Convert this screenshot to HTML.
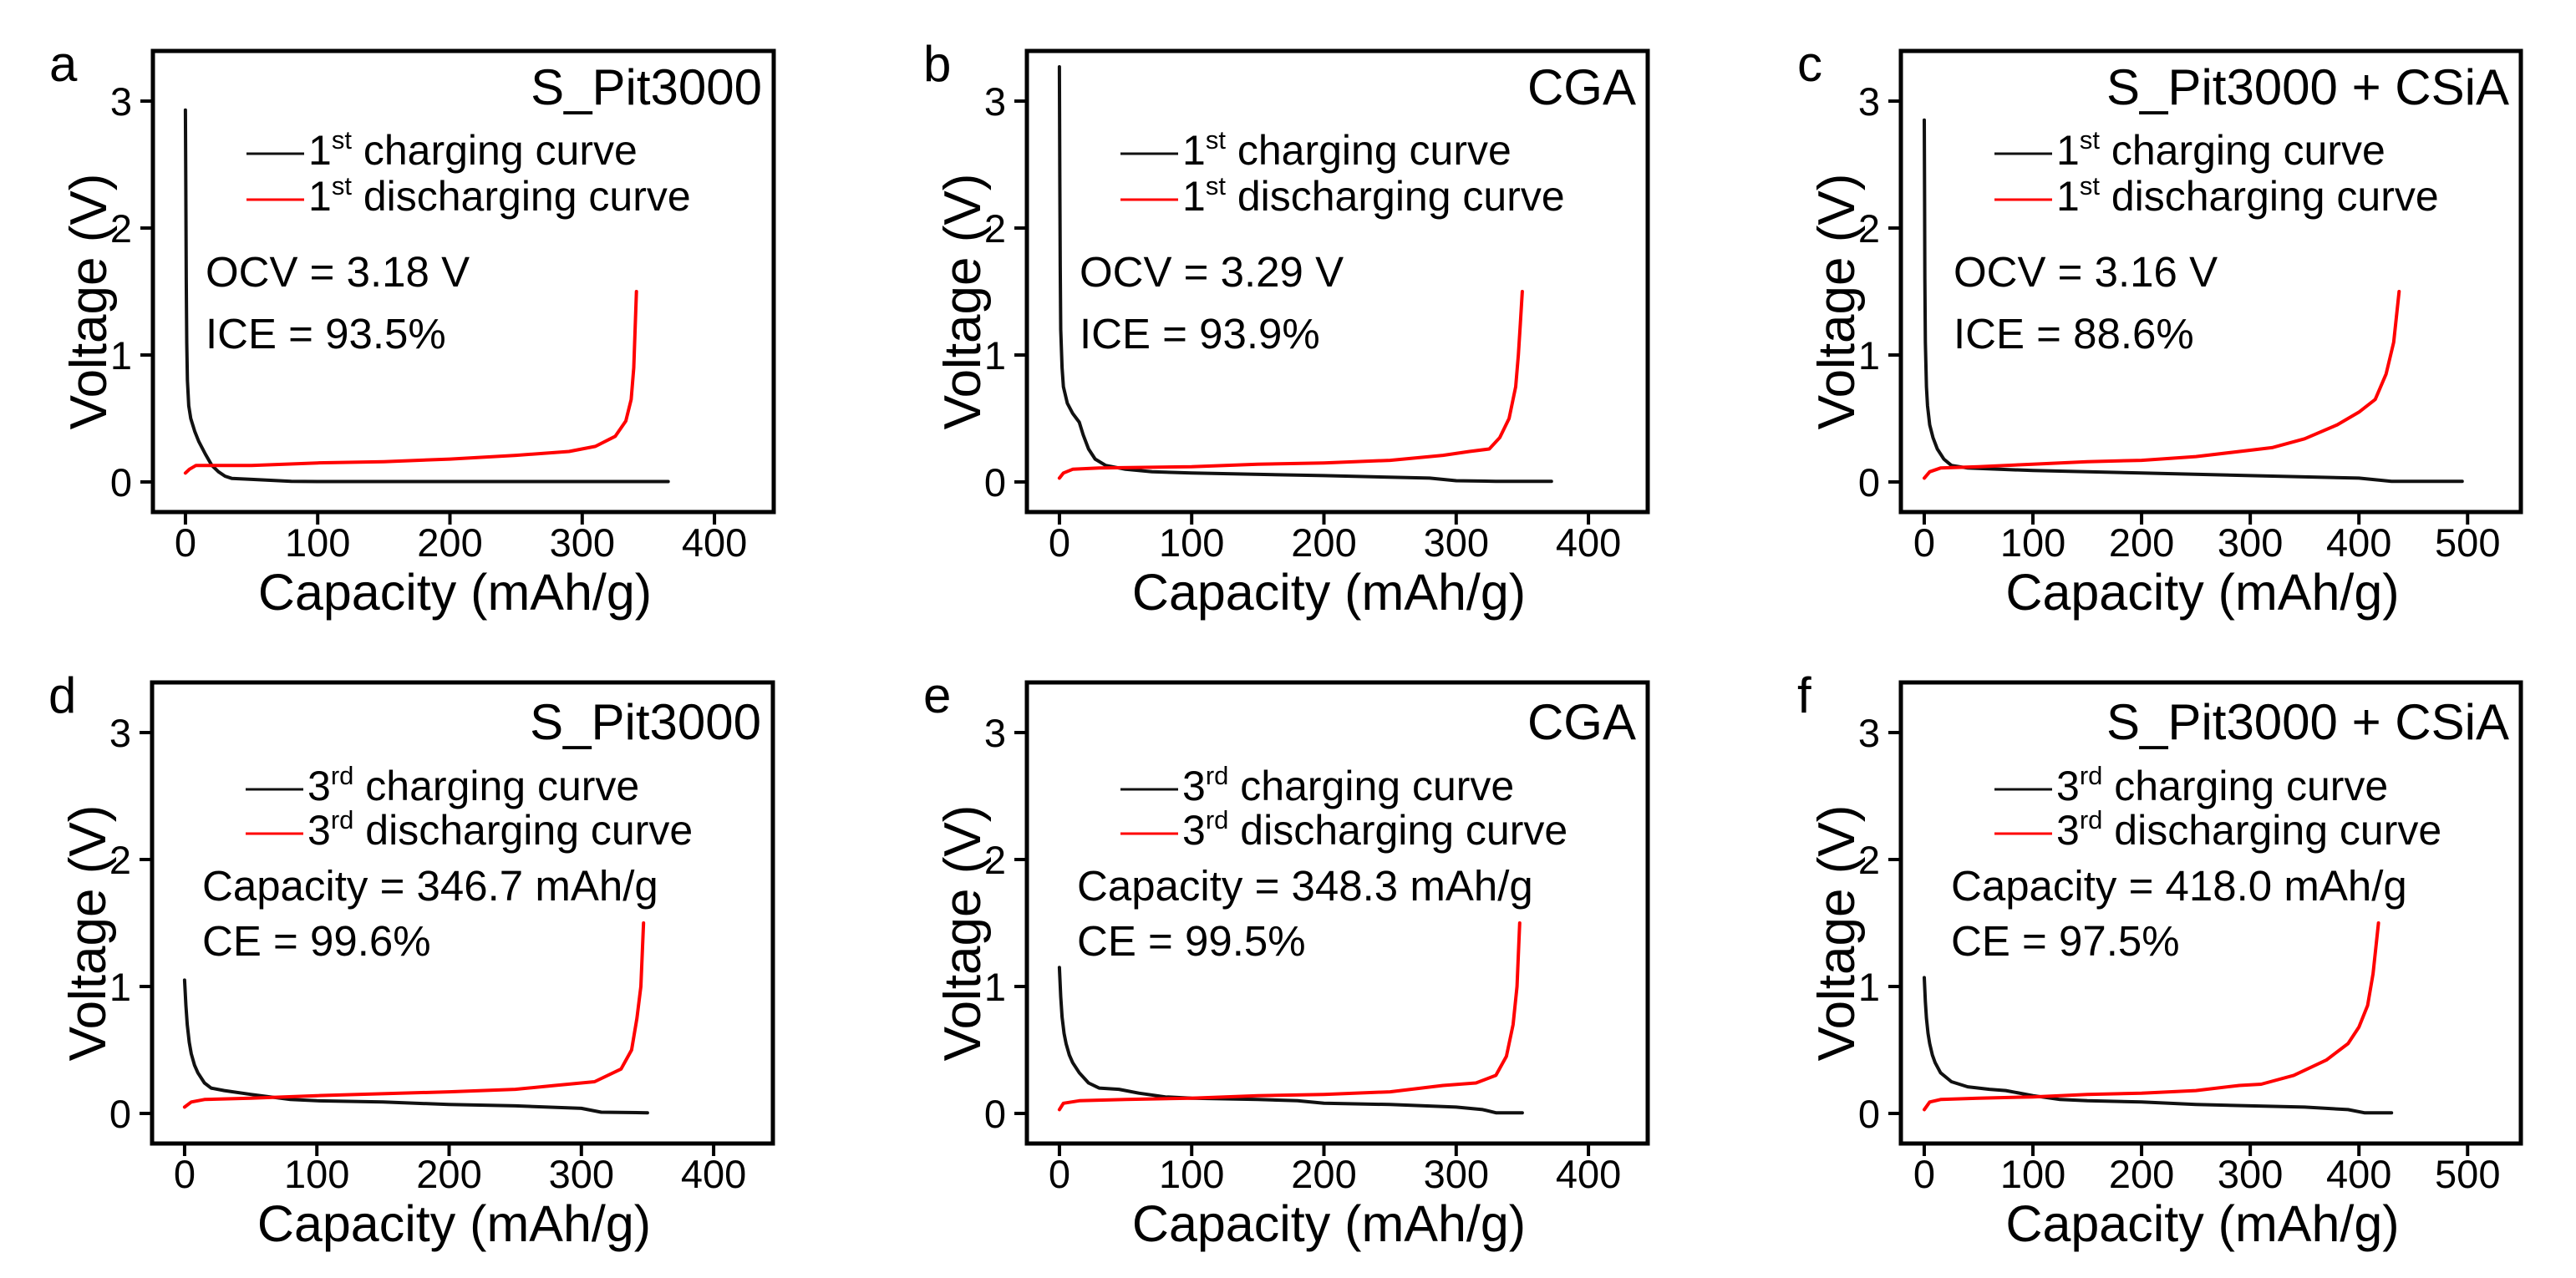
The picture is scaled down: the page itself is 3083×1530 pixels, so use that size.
<!DOCTYPE html>
<html><head><meta charset="utf-8"><style>
html,body{margin:0;padding:0;background:#fff}
svg{display:block;font-family:"Liberation Sans",Arial,sans-serif}
</style></head><body>
<svg id="fig" xmlns="http://www.w3.org/2000/svg" width="3083" height="1530" viewBox="0 0 3083 1530"></svg>
<script>
// ---- data (capacity mAh/g, voltage V) ----
const aChargeX=[0,0.3,0.6,1,1.5,2.5,4,7,10,15,20,25,30,35,50,80,100,365];
const aChargeV=[2.93,2.3,1.6,1.1,0.8,0.6,0.5,0.4,0.32,0.22,0.13,0.08,0.045,0.028,0.02,0.005,0.003,0.003];
const aDischX=[0,3,8,20,50,100,150,200,250,290,310,325,333,337,339,340,341];
const aDischV=[0.07,0.1,0.13,0.13,0.13,0.15,0.16,0.18,0.21,0.24,0.28,0.36,0.48,0.65,0.9,1.2,1.5];
const bChargeX=[0,0.3,0.6,1,2,3,6,10,15,18,22,27,35,50,70,100,200,280,300,330,372];
const bChargeV=[3.27,2.4,1.7,1.2,0.9,0.75,0.62,0.54,0.47,0.37,0.26,0.18,0.13,0.1,0.08,0.07,0.05,0.03,0.01,0.005,0.005];
const bDischX=[0,3,10,30,100,150,200,250,290,310,325,333,340,345,347,348.5,350];
const bDischV=[0.03,0.07,0.1,0.11,0.12,0.14,0.15,0.17,0.21,0.24,0.26,0.35,0.5,0.75,1.0,1.25,1.5];
const cChargeX=[0,0.3,0.6,1,2,3,5,8,12,18,25,40,100,200,300,400,430,495];
const cChargeV=[2.85,2.2,1.6,1.1,0.75,0.6,0.45,0.35,0.26,0.18,0.13,0.11,0.09,0.07,0.05,0.03,0.005,0.005];
const cDischX=[0,5,15,50,100,150,200,250,300,320,350,380,400,415,425,432,437];
const cDischV=[0.03,0.08,0.11,0.12,0.14,0.16,0.17,0.2,0.25,0.27,0.34,0.45,0.55,0.65,0.85,1.1,1.5];
const dChargeX=[0,1,2,3.5,5,7.5,10,15,20,30,50,80,100,150,200,250,300,315,350];
const dChargeV=[1.05,0.85,0.7,0.56,0.47,0.38,0.32,0.24,0.2,0.18,0.15,0.11,0.1,0.09,0.07,0.06,0.04,0.01,0.005];
const dDischX=[0,5,15,50,100,200,250,280,310,330,338,342,345,347];
const dDischV=[0.05,0.09,0.11,0.12,0.14,0.17,0.19,0.22,0.25,0.35,0.5,0.75,1.0,1.5];
const eChargeX=[0,1,2,3.5,5,7.5,10,15,22,30,45,60,80,100,150,180,200,250,300,320,330,350];
const eChargeV=[1.15,0.92,0.76,0.63,0.55,0.46,0.4,0.32,0.24,0.2,0.19,0.16,0.13,0.12,0.11,0.1,0.08,0.07,0.05,0.03,0.005,0.005];
const eDischX=[0,3,15,50,100,150,200,250,290,315,330,338,343,346,348];
const eDischV=[0.03,0.08,0.1,0.11,0.12,0.14,0.15,0.17,0.22,0.24,0.3,0.45,0.7,1.0,1.5];
const fChargeX=[0,1,2,3.5,5,7.5,10,15,25,40,60,75,100,125,150,200,250,300,350,390,405,430];
const fChargeV=[1.07,0.88,0.75,0.63,0.55,0.46,0.4,0.32,0.25,0.21,0.19,0.18,0.14,0.11,0.1,0.09,0.07,0.06,0.05,0.03,0.005,0.005];
const fDischX=[0,5,15,50,100,150,200,250,290,310,340,370,390,400,408,413,418];
const fDischV=[0.03,0.09,0.11,0.12,0.13,0.15,0.16,0.18,0.22,0.23,0.3,0.42,0.55,0.68,0.85,1.1,1.5];
const xTicks4=[0,100,200,300,400];
const xTicks5=[0,100,200,300,400,500];
const yTicks=[0,1,2,3];

const NS="http://www.w3.org/2000/svg";
const svg=document.getElementById('fig');
function el(tag,attrs,parent){const e=document.createElementNS(NS,tag);for(const k in attrs)e.setAttribute(k,attrs[k]);(parent||svg).appendChild(e);return e;}

const panels=[
 {id:'a',L:183,T:61,W:743,xmin:-24.6,xmax:444.8,ticks:xTicks4,title:'S_Pit3000',ord:'st',n:'1',t1:'OCV = 3.18 V',t2:'ICE = 93.5%',cx:aChargeX,cv:aChargeV,dx:aDischX,dv:aDischV},
 {id:'b',L:1229,T:61,W:743,xmin:-24.6,xmax:444.8,ticks:xTicks4,title:'CGA',ord:'st',n:'1',t1:'OCV = 3.29 V',t2:'ICE = 93.9%',cx:bChargeX,cv:bChargeV,dx:bDischX,dv:bDischV},
 {id:'c',L:2275,T:61,W:742,xmin:-21.5,xmax:549,ticks:xTicks5,title:'S_Pit3000 + CSiA',ord:'st',n:'1',t1:'OCV = 3.16 V',t2:'ICE = 88.6%',cx:cChargeX,cv:cChargeV,dx:cDischX,dv:cDischV},
 {id:'d',L:182,T:817,W:743,xmin:-24.6,xmax:444.8,ticks:xTicks4,title:'S_Pit3000',ord:'rd',n:'3',t1:'Capacity = 346.7 mAh/g',t2:'CE = 99.6%',cx:dChargeX,cv:dChargeV,dx:dDischX,dv:dDischV},
 {id:'e',L:1229,T:817,W:743,xmin:-24.6,xmax:444.8,ticks:xTicks4,title:'CGA',ord:'rd',n:'3',t1:'Capacity = 348.3 mAh/g',t2:'CE = 99.5%',cx:eChargeX,cv:eChargeV,dx:eDischX,dv:eDischV},
 {id:'f',L:2275,T:817,W:742,xmin:-21.5,xmax:549,ticks:xTicks5,title:'S_Pit3000 + CSiA',ord:'rd',n:'3',t1:'Capacity = 418.0 mAh/g',t2:'CE = 97.5%',cx:fChargeX,cv:fChargeV,dx:fDischX,dv:fDischV}
];
const H=552, YMIN=-0.237, YMAX=3.395;

panels.forEach(p=>{
  const g=el('g',{});
  
  
  const sx=v=>p.L+(v-p.xmin)/(p.xmax-p.xmin)*p.W;
  const sy=v=>p.T+H-(v-YMIN)/(YMAX-YMIN)*H;
  const B=p.T+H, R=p.L+p.W;
  const top=p.T<400;
  const mk=(xs,vs,color,name)=>{
    const pts=xs.map((x,i)=>sx(x).toFixed(1)+','+sy(vs[i]).toFixed(1)).join(' ');
    const pl=el('polyline',{points:pts,fill:'none',stroke:color,'stroke-width':4,'stroke-linejoin':'round','stroke-linecap':'round'},g);
    
    
  };
  mk(p.cx,p.cv,'#111','charging-curve');
  mk(p.dx,p.dv,'#ff0000','discharging-curve');
  const fr=el('rect',{x:p.L,y:p.T,width:p.W,height:H,fill:'none',stroke:'#000','stroke-width':5},g);
  
  
  p.ticks.forEach(t=>{
    const x=sx(t);
    el('line',{x1:x,y1:B,x2:x,y2:B+15,stroke:'#000','stroke-width':4},g);
    const tx=el('text',{x:x,y:B+53,'font-size':47,'text-anchor':'middle',fill:'#000'},g);
    tx.textContent=t;
    
    
  });
  yTicks.forEach(t=>{
    const y=sy(t);
    el('line',{x1:p.L-15,y1:y,x2:p.L,y2:y,stroke:'#000','stroke-width':4},g);
    const tx=el('text',{x:p.L-25,y:y+17,'font-size':47,'text-anchor':'end',fill:'#000'},g);
    tx.textContent=t;
    
    
  });
  const xt=el('text',{x:p.L+p.W/2-10,y:B+117,'font-size':61,'text-anchor':'middle',fill:'#000'},g);
  xt.textContent='Capacity (mAh/g)';
  
  
  const yt=el('text',{x:0,y:0,'font-size':62,'text-anchor':'middle',fill:'#000',transform:'translate('+(p.L-56)+','+(p.T+300)+') rotate(-90)'},g);
  yt.textContent='Voltage (V)';
  
  
  const lt=el('text',{x:p.L-124,y:p.T+36,'font-size':60,fill:'#000'},g);
  lt.textContent=p.id;
  
  
  const tt=el('text',{x:R-14,y:p.T+(top?64:68),'font-size':60,'text-anchor':'end',fill:'#000'},g);
  tt.textContent=p.title;
  
  
  const leg=[['#111',' charging curve',top?123:128],['#ff0000',' discharging curve',top?178:181]];
  leg.forEach((l,i)=>{
    const ln=el('line',{x1:p.L+112,y1:p.T+l[2],x2:p.L+181,y2:p.T+l[2],stroke:l[0],'stroke-width':3},g);
    
    
    const tx=el('text',{x:p.L+186,y:p.T+l[2]+13,'font-size':50,fill:'#000'},g);
    
    
    const s1=el('tspan',{},tx);s1.textContent=p.n;
    const s2=el('tspan',{'font-size':31,dy:-19},tx);s2.textContent=p.ord;
    const s3=el('tspan',{dy:19},tx);s3.textContent=l[1];
  });
  const a1=el('text',{x:p.L+(top?63:60),y:p.T+(top?282:261),'font-size':51,fill:'#000'},g);
  a1.textContent=p.t1;
  
  
  const a2=el('text',{x:p.L+(top?63:60),y:p.T+(top?356:327),'font-size':51,fill:'#000'},g);
  a2.textContent=p.t2;
  
  
});
</script>
</body></html>
